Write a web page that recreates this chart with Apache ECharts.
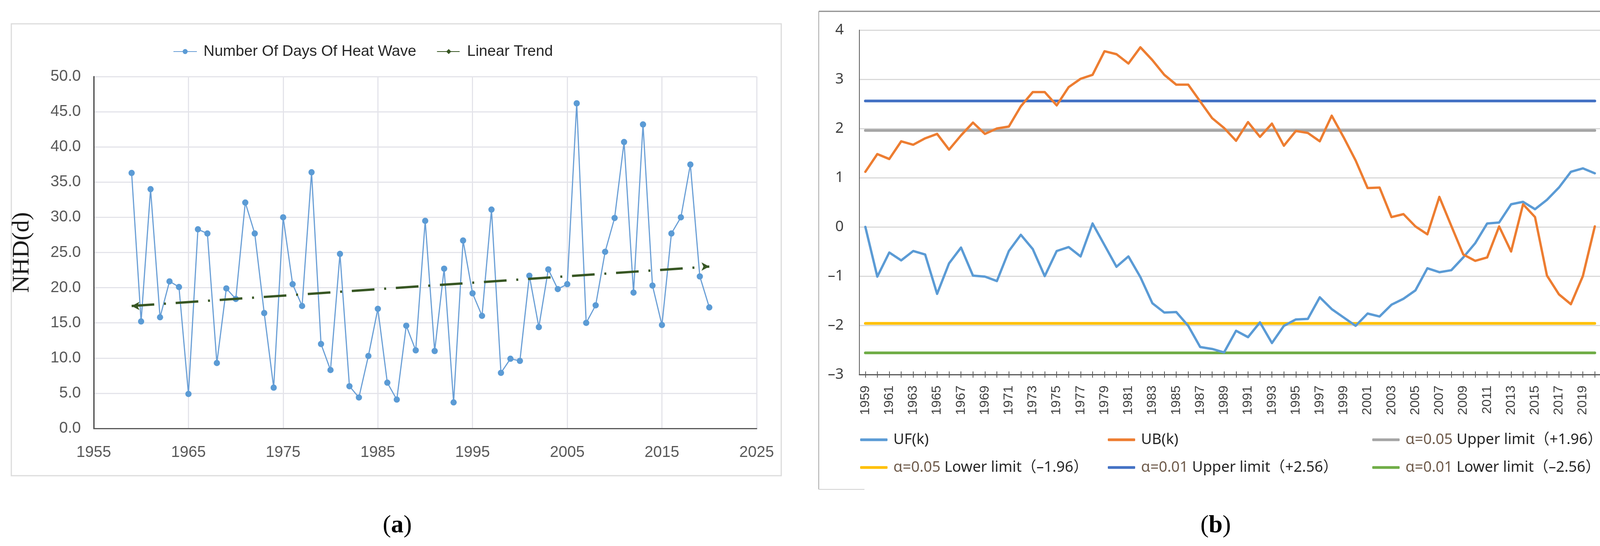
<!DOCTYPE html>
<html><head><meta charset="utf-8">
<script src="https://cdn.jsdelivr.net/npm/echarts@6/dist/echarts.min.js"></script>
<style>html,body{margin:0;padding:0;background:#fff}#c{width:4161px;height:1398px}</style>
</head><body><div id="c"></div>
<script>
const years = ['1959','1960','1961','1962','1963','1964','1965','1966','1967','1968',
 '1969','1970','1971','1972','1973','1974','1975','1976','1977','1978',
 '1979','1980','1981','1982','1983','1984','1985','1986','1987','1988',
 '1989','1990','1991','1992','1993','1994','1995','1996','1997','1998',
 '1999','2000','2001','2002','2003','2004','2005','2006','2007','2008',
 '2009','2010','2011','2012','2013','2014','2015','2016','2017','2018',
 '2019','2020'];
const heatWaveDays = [36.3,15.2,34.0,15.8,20.9,20.1,4.9,28.3,27.7,9.3,
 19.9,18.4,32.1,27.7,16.4,5.8,30.0,20.5,17.4,36.4,
 12.0,8.3,24.8,6.0,4.4,10.3,17.0,6.5,4.1,14.6,
 11.1,29.5,11.0,22.7,3.7,26.7,19.2,16.0,31.1,7.9,
 9.9,9.6,21.7,14.4,22.6,19.8,20.5,46.2,15.0,17.5,
 25.1,29.9,40.7,19.3,43.2,20.3,14.7,27.7,30.0,37.5,
 21.6,17.2];
const trendStart = [1959, 17.4];
const trendEnd = [2020, 23.0];
const UF = [0.00,-1.01,-0.52,-0.68,-0.49,-0.56,-1.36,-0.74,-0.42,-0.99,
 -1.01,-1.10,-0.49,-0.16,-0.45,-1.00,-0.49,-0.41,-0.60,0.07,
 -0.37,-0.81,-0.60,-1.02,-1.55,-1.74,-1.73,-2.01,-2.44,-2.48,
 -2.55,-2.11,-2.24,-1.94,-2.36,-2.01,-1.88,-1.87,-1.43,-1.67,
 -1.84,-2.01,-1.76,-1.82,-1.58,-1.46,-1.29,-0.84,-0.92,-0.88,
 -0.62,-0.33,0.07,0.09,0.46,0.51,0.36,0.55,0.80,1.12,
 1.19,1.09];
const UB = [1.12,1.48,1.38,1.74,1.67,1.80,1.89,1.57,1.86,2.12,
 1.89,2.00,2.04,2.45,2.74,2.74,2.47,2.84,3.01,3.09,
 3.57,3.51,3.32,3.65,3.39,3.09,2.89,2.89,2.55,2.21,
 2.01,1.75,2.13,1.83,2.10,1.65,1.95,1.91,1.74,2.26,
 1.82,1.35,0.79,0.80,0.20,0.26,0.01,-0.15,0.61,0.02,
 -0.56,-0.69,-0.62,0.01,-0.50,0.46,0.20,-0.99,-1.37,-1.57,
 -1.00,0.01];
const limitNames = ['α=0.05 Upper limit（+1.96）','α=0.05 Lower limit（–1.96）','α=0.01 Upper limit（+2.56）','α=0.01 Lower limit（–2.56）'];
const limitValues = [1.96, -1.96, 2.56, -2.56];
const xTicksA = [1955, 2025, 10];
const yTicksA = [0, 50, 5];
const yTicksB = [-3, 4, 1];

const chart = echarts.init(document.getElementById('c'));
const sansA = 'Liberation Sans';
const sansB = "'Noto Sans', 'Noto Sans CJK SC'";
const lineColors = ['#a5a5a5','#ffc000','#4472c4','#70ad47'];
const legendRich = {a:{fontFamily:sansB,fontSize:38,color:'#6e5a4a'}, t:{fontFamily:sansB,fontSize:38,color:'#262626'}};
function legFmt(n){ const m = n.match(/^(α=0\.0\d)(.*)$/); return m ? '{a|'+m[1]+'}{t|'+m[2]+'}' : '{t|'+n+'}'; }

const option = {
  backgroundColor:'#fff',
  animation:false,
  grid:[
    {left:240, top:196, width:1697, height:901},
    {left:2200, top:77, width:1898, height:882}
  ],
  legend:[
    {left:438, top:105, itemWidth:60, itemHeight:16, itemGap:52,
     textStyle:{fontFamily:sansA, fontSize:39, color:'#262626', lineHeight:44, padding:[0,0,0,12]},
     data:['Number Of Days Of Heat Wave','Linear Trend']},
    {orient:'vertical', left:2197, top:1099, itemWidth:70, itemHeight:7, itemGap:27, icon:'roundRect',
     formatter:legFmt, textStyle:{lineHeight:44, rich:legendRich, padding:[0,0,0,10]}, data:['UF(k)', limitNames[1]]},
    {orient:'vertical', left:2831, top:1099, itemWidth:70, itemHeight:7, itemGap:27, icon:'roundRect',
     formatter:legFmt, textStyle:{lineHeight:44, rich:legendRich, padding:[0,0,0,10]}, data:['UB(k)', limitNames[2]]},
    {orient:'vertical', left:3508, top:1099, itemWidth:70, itemHeight:7, itemGap:27, icon:'roundRect',
     formatter:legFmt, textStyle:{lineHeight:44, rich:legendRich, padding:[0,0,0,10]}, data:[limitNames[0], limitNames[3]]}
  ],
  xAxis:[
    {type:'value', gridIndex:0, min:xTicksA[0], max:xTicksA[1], interval:xTicksA[2],
     axisLine:{show:true, onZero:false, lineStyle:{color:'#595959', width:3}},
     axisTick:{show:false},
     axisLabel:{fontFamily:sansA, fontSize:40, color:'#595959', margin:42, showMinLabel:true, showMaxLabel:true, formatter:v=>String(v)},
     splitLine:{show:true, lineStyle:{color:'#e4e4ea', width:3}}},
    {type:'category', gridIndex:1, data:years, boundaryGap:true,
     axisLine:{show:true, onZero:false, lineStyle:{color:'#595959', width:3}},
     axisTick:{show:true, interval:0, alignWithLabel:true, length:8, lineStyle:{color:'#595959', width:2}},
     axisLabel:{interval:1, rotate:90, fontFamily:sansA, fontSize:34, color:'#404040', margin:28},
     splitLine:{show:false}},
    {type:'category', gridIndex:1, data:years, boundaryGap:true, position:'bottom',
     axisLine:{show:false, onZero:false},
     axisTick:{show:true, inside:true, interval:0, alignWithLabel:true, length:8, lineStyle:{color:'#595959', width:2}},
     axisLabel:{show:false}, splitLine:{show:false}}
  ],
  yAxis:[
    {type:'value', gridIndex:0, min:yTicksA[0], max:yTicksA[1], interval:yTicksA[2],
     name:'NHD(d)', nameLocation:'middle', nameGap:152, nameRotate:90,
     nameTextStyle:{fontFamily:'Liberation Serif', fontSize:62, color:'#1a1a1a'},
     axisLine:{show:true, lineStyle:{color:'#404040', width:3}},
     axisTick:{show:false},
     axisLabel:{fontFamily:sansA, fontSize:40, color:'#595959', margin:33, formatter:v=>v.toFixed(1)},
     splitLine:{show:true, lineStyle:{color:'#e4e4ea', width:3}}},
    {type:'value', gridIndex:1, min:yTicksB[0], max:yTicksB[1], interval:yTicksB[2],
     axisLine:{show:true, lineStyle:{color:'#595959', width:2}},
     axisTick:{show:false},
     axisLabel:{fontFamily:sansB, fontSize:38, color:'#404040', margin:40, formatter:v=> v<0 ? '–'+Math.abs(v) : String(v)},
     splitLine:{show:true, lineStyle:{color:'#d9d9d9', width:3}}}
  ],
  series:[
    {name:'Number Of Days Of Heat Wave', type:'line', xAxisIndex:0, yAxisIndex:0,
     data: years.map((y,i)=>[Number(y), heatWaveDays[i]]),
     symbol:'circle', symbolSize:16, itemStyle:{color:'#5b9bd5'},
     lineStyle:{color:'#6a9fd6', width:3}, z:3},
    {name:'Linear Trend', type:'line', xAxisIndex:0, yAxisIndex:0,
     symbol:'diamond', symbolSize:16, itemStyle:{color:'#375623'},
     lineStyle:{color:'#375623', width:6, type:[58,25,5,25]},
     data:[{value:trendStart, symbol:'arrow', symbolRotate:90, symbolSize:[16,20]},
           {value:trendEnd, symbol:'arrow', symbolRotate:-90, symbolSize:[16,20]}], z:4},
    {name:'UF(k)', type:'line', xAxisIndex:1, yAxisIndex:1, data:UF, symbol:'none',
     itemStyle:{color:'#5b9bd5'}, lineStyle:{color:'#5b9bd5', width:6, cap:'round', join:'round'}, z:5},
    {name:'UB(k)', type:'line', xAxisIndex:1, yAxisIndex:1, data:UB, symbol:'none',
     itemStyle:{color:'#ed7d31'}, lineStyle:{color:'#ed7d31', width:6, cap:'round', join:'round'}, z:5}
  ].concat(limitNames.map((n,k)=>({
     name:n, type:'line', xAxisIndex:1, yAxisIndex:1, symbol:'none',
     data:[[years[0], limitValues[k]], [years[years.length-1], limitValues[k]]],
     itemStyle:{color:lineColors[k]}, lineStyle:{color:lineColors[k], width:7, cap:'round'}, z:4}))),
  graphic:[
    {type:'rect', shape:{x:29, y:61, width:1971, height:1157}, style:{fill:'none', stroke:'#dcdcdc', lineWidth:3}, silent:true},
    {type:'line', shape:{x1:2096, y1:29, x2:4134, y2:29}, style:{stroke:'#8c8c8c', lineWidth:3}},
    {type:'line', shape:{x1:2096, y1:29, x2:2096, y2:1253}, style:{stroke:'#a6a6a6', lineWidth:2}},
    {type:'line', shape:{x1:4134, y1:29, x2:4134, y2:1096}, style:{stroke:'#d4d4d4', lineWidth:3}},
    {type:'line', shape:{x1:2096, y1:1253, x2:2213, y2:1253}, style:{stroke:'#d0d0d0', lineWidth:2}},
    {type:'text', x:1017, y:1346, style:{text:'{p|(}{b|a}{p|)}', align:'center', verticalAlign:'middle',
      rich:{p:{fontFamily:'Liberation Serif', fontSize:64, fill:'#000'}, b:{fontFamily:'Liberation Serif', fontWeight:'bold', fontSize:64, fill:'#000'}}}},
    {type:'text', x:3112, y:1346, style:{text:'{p|(}{b|b}{p|)}', align:'center', verticalAlign:'middle',
      rich:{p:{fontFamily:'Liberation Serif', fontSize:64, fill:'#000'}, b:{fontFamily:'Liberation Serif', fontWeight:'bold', fontSize:64, fill:'#000'}}}}
  ]
};
chart.setOption(option);
</script>
</body></html>
